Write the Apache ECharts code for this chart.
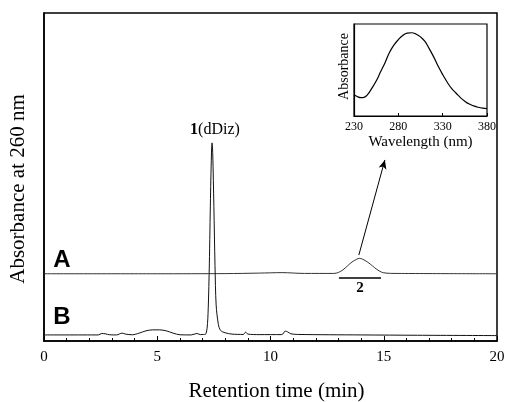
<!DOCTYPE html>
<html>
<head>
<meta charset="utf-8">
<script src="https://cdn.jsdelivr.net/npm/echarts@6/dist/echarts.min.js"></script>
<style>
  html, body { margin: 0; padding: 0; background: #fff; }
  #chart { width: 509px; height: 402px; }
</style>
</head>
<body>
<div id="chart"></div>
<script>
// trace B (sample), retention time in min / absorbance in arbitrary units (0-100 full frame)
var timeB = [0, 2.4, 2.55, 2.7, 2.9, 3.2, 3.45, 3.6, 3.9, 4.2, 4.5, 4.8, 5.1, 5.4, 5.7, 6.0, 6.5, 6.75, 6.9, 7.05, 7.12,
  7.2, 7.25, 7.3, 7.35, 7.4, 7.42, 7.45, 7.5, 7.55, 7.6, 7.7, 7.8, 8.0, 8.3, 8.8, 8.9, 9.0, 9.5, 10.5, 10.65, 10.75,
  10.9, 11.2, 14, 16.5, 20];
var absB = [1.85, 1.85, 2.3, 2.2, 1.9, 1.85, 2.4, 2.1, 1.9, 2.4, 3.1, 3.4, 3.4, 3.1, 2.4, 1.9, 1.85, 2.3, 1.95, 2.0, 2.0,
  3.9, 9.8, 23.5, 43.5, 58.8, 60.4, 57, 41, 23, 11, 5, 3.2, 2.5, 2.1, 2.0, 2.7, 2.1, 1.95, 1.95, 3.0, 2.8,
  2.2, 2.0, 1.85, 1.75, 1.65];

// trace A (offset above B)
var timeA = [0, 5, 8, 9.5, 10.5, 11.5, 12.8, 13.0, 13.2, 13.4, 13.6, 13.8, 13.92, 14.05, 14.3, 14.5, 14.7, 14.9, 15.1, 15.5, 20];
var absA = [20.5, 20.5, 20.55, 20.7, 20.85, 20.6, 20.6, 20.9, 21.7, 22.9, 24.1, 24.9, 25.2, 25.0, 24.0, 22.9, 21.8, 21.0, 20.7, 20.6, 20.5];

// inset UV spectrum of peak 2
var wavelength = [230, 235, 238, 240, 245, 250, 255, 260, 265, 270, 275, 280, 285, 290, 295, 300, 305, 310,
  315, 320, 325, 330, 335, 340, 345, 350, 355, 360, 365, 370, 375, 380];
var specAbs = [0.23, 0.205, 0.20, 0.20, 0.23, 0.30, 0.38, 0.48, 0.58, 0.69, 0.77, 0.83, 0.875, 0.90, 0.905, 0.89, 0.86, 0.81,
  0.73, 0.64, 0.54, 0.45, 0.37, 0.30, 0.25, 0.20, 0.16, 0.13, 0.11, 0.095, 0.085, 0.08];

// annotations: collection bar under peak 2, arrow to inset
var barPeak2 = [[13.02, 19.2], [14.88, 19.2]];
var arrowPeak2 = [[13.9, 26.2], [15.05, 55.2]];

var mainTicks = [0, 5, 10, 15, 20];
var insetTicks = [230, 280, 330, 380];

function pairs(xs, ys) {
  var out = [];
  for (var i = 0; i < xs.length; i++) out.push([xs[i], ys[i]]);
  return out;
}

var serif = 'Liberation Serif';
var chart = echarts.init(document.getElementById('chart'));

var option = {
  backgroundColor: '#fff',
  animation: false,
  grid: [{
    left: 44, right: 12, top: 13, bottom: 61,
    outerBoundsMode: 'none',
    show: true, borderColor: '#000', borderWidth: 1.5
  }, {
    left: 354, top: 24, width: 133, height: 92,
    outerBoundsMode: 'none',
    show: true, borderColor: '#000', borderWidth: 1.2
  }],
  xAxis: [{
    gridIndex: 0, type: 'value',
    min: mainTicks[0], max: mainTicks[mainTicks.length - 1], interval: 5,
    axisLine: { lineStyle: { color: '#000', width: 1.5 } },
    axisTick: { inside: true, length: 5, lineStyle: { color: '#000', width: 1 } },
    minorTick: { show: true, splitNumber: 5, length: 3, lineStyle: { color: '#000', width: 1 } },
    axisLabel: { fontFamily: serif, fontSize: 15, color: '#000', margin: 9 },
    splitLine: { show: false },
    name: 'Retention time (min)', nameLocation: 'middle', nameGap: 40,
    nameTextStyle: { fontFamily: serif, fontSize: 21, color: '#000', padding: [0, 0, 0, 12] }
  }, {
    gridIndex: 1, type: 'value',
    min: insetTicks[0], max: insetTicks[insetTicks.length - 1], interval: 50,
    axisLine: { lineStyle: { color: '#000', width: 1.2 } },
    axisTick: { inside: true, length: 3, lineStyle: { color: '#000' } },
    axisLabel: { fontFamily: serif, fontSize: 12, color: '#000', margin: 5 },
    splitLine: { show: false },
    name: 'Wavelength (nm)', nameLocation: 'middle', nameGap: 19,
    nameTextStyle: { fontFamily: serif, fontSize: 15, color: '#000' }
  }],
  yAxis: [{
    gridIndex: 0, type: 'value', min: 0, max: 100,
    axisLine: { show: true, lineStyle: { color: '#000', width: 1.5 } },
    axisTick: { show: false },
    axisLabel: { show: false },
    splitLine: { show: false },
    name: 'Absorbance at 260 nm', nameLocation: 'middle', nameGap: 15,
    nameTextStyle: { fontFamily: serif, fontSize: 21, color: '#000', padding: [0, 24, 0, 0] }
  }, {
    gridIndex: 1, type: 'value', min: 0, max: 1,
    axisLine: { show: true, lineStyle: { color: '#000', width: 1.2 } },
    axisTick: { show: false },
    axisLabel: { show: false },
    splitLine: { show: false },
    name: 'Absorbance', nameLocation: 'middle', nameGap: 3,
    nameTextStyle: { fontFamily: serif, fontSize: 14, color: '#000', padding: [0, 0, 0, 7] }
  }],
  series: [{
    name: 'A', type: 'line', xAxisIndex: 0, yAxisIndex: 0,
    data: pairs(timeA, absA), showSymbol: false, smooth: 0.3,
    lineStyle: { color: '#333', width: 1 },
    markLine: {
      silent: true, animation: false,
      label: { show: false },
      data: [
        [{ coord: barPeak2[0], symbol: 'none', lineStyle: { color: '#000', width: 1.5, type: 'solid' } },
         { coord: barPeak2[1], symbol: 'none' }],
        [{ coord: arrowPeak2[0], symbol: 'none', lineStyle: { color: '#000', width: 1, type: 'solid' } },
         { coord: arrowPeak2[1], symbol: 'arrow', symbolSize: [6, 9] }]
      ]
    }
  }, {
    name: 'B', type: 'line', xAxisIndex: 0, yAxisIndex: 0,
    data: pairs(timeB, absB), showSymbol: false, smooth: 0.3,
    lineStyle: { color: '#111', width: 1 }
  }, {
    name: 'spectrum', type: 'line', xAxisIndex: 1, yAxisIndex: 1,
    data: pairs(wavelength, specAbs), showSymbol: false, smooth: true,
    lineStyle: { color: '#000', width: 1.2 }
  }],
  graphic: [{
    type: 'text', x: 62, y: 260,
    style: { text: 'A', font: 'bold 24px "Liberation Sans"', fill: '#000', align: 'center', verticalAlign: 'middle' }
  }, {
    type: 'text', x: 62, y: 317,
    style: { text: 'B', font: 'bold 24px "Liberation Sans"', fill: '#000', align: 'center', verticalAlign: 'middle' }
  }, {
    type: 'text', x: 215, y: 130,
    style: {
      text: '{b|1}{n|(dDiz)}', align: 'center', verticalAlign: 'middle',
      rich: {
        b: { font: 'bold 16px "Liberation Serif"', fill: '#000' },
        n: { font: '16px "Liberation Serif"', fill: '#000' }
      }
    }
  }, {
    type: 'text', x: 360, y: 288,
    style: { text: '2', font: 'bold 15px "Liberation Serif"', fill: '#000', align: 'center', verticalAlign: 'middle' }
  }]
};

chart.setOption(option);
</script>
</body>
</html>
